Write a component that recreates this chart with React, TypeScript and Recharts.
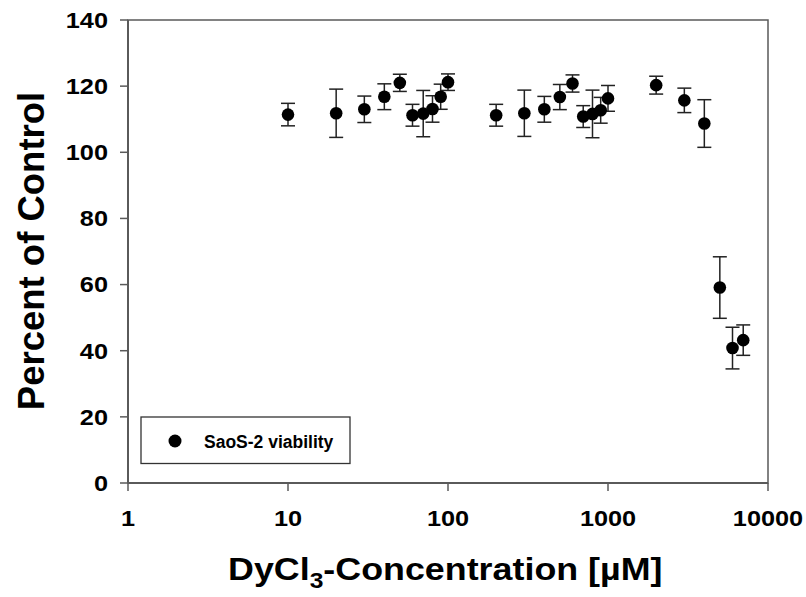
import React from "react";
import {
  ComposedChart,
  Scatter,
  XAxis,
  YAxis,
  ErrorBar,
  ReferenceArea,
  Legend,
} from "recharts";

const concentrations = [10, 20, 30, 40, 50, 60, 70, 80, 90, 100, 200, 300, 400, 500, 600, 700, 800, 900, 1000, 2000, 3000, 4000, 5000, 6000, 7000];
const viability = [111.4, 111.8, 113.0, 116.8, 121.0, 111.2, 111.7, 113.1, 116.8, 121.2, 111.2, 111.8, 113.0, 116.7, 120.8, 110.8, 111.6, 112.7, 116.3, 120.3, 115.7, 108.7, 59.1, 40.8, 43.2];
const errors = [3.4, 7.3, 4.0, 3.9, 2.6, 3.3, 7.0, 4.0, 3.8, 2.5, 3.3, 7.0, 3.9, 3.8, 2.6, 3.3, 7.2, 3.9, 3.9, 2.7, 3.7, 7.2, 9.3, 6.3, 4.6];
const xTicks = [1, 10, 100, 1000, 10000];
const yTicks = [0, 20, 40, 60, 80, 100, 120, 140];
const seriesName = "SaoS-2 viability";
const xTitleMain = "DyCl";
const xTitleSub = "3";
const xTitleRest = "-Concentration [µM]";
const yTitle = "Percent of Control";

const data = concentrations.map((c, i) => ({ x: c, y: viability[i], err: errors[i] }));

const FONT = "'Liberation Sans', Arial, Helvetica, sans-serif";
const AXIS = "#5a5a5a";

const YTick = (props: any) => {
  const { x, y, payload } = props;
  return (
    <text
      x={0}
      y={0}
      transform={`translate(${x},${y}) scale(1.15,1)`}
      textAnchor="end"
      dy={7.9}
      fontFamily={FONT}
      fontWeight="bold"
      fontSize={22}
      fill="#000"
    >
      {payload.value}
    </text>
  );
};

const XTick = (props: any) => {
  const { x, payload } = props;
  return (
    <text
      x={0}
      y={0}
      transform={`translate(${x},526) scale(1.15,1)`}
      textAnchor="middle"
      fontFamily={FONT}
      fontWeight="bold"
      fontSize={22}
      fill="#000"
    >
      {payload.value}
    </text>
  );
};

const Dot = (props: any) => {
  const { cx, cy } = props;
  return <circle cx={cx} cy={cy} r={6.3} fill="#000" />;
};

const LegendBox = () => (
  <svg width={212} height={49} style={{ display: "block" }}>
    <rect x={1} y={1} width={209} height={46.5} fill="#fff" stroke="#333" strokeWidth={1.3} />
    <circle cx={35} cy={25} r={6.5} fill="#000" />
    <text
      x={64}
      y={31.5}
      fontFamily={FONT}
      fontWeight="bold"
      fontSize={17.5}
      fill="#000"
    >
      {seriesName}
    </text>
  </svg>
);

const XTitle = () => (
  <text
    x={0}
    y={0}
    transform="translate(228,580) scale(1.12,1)"
    fontFamily={FONT}
    fontWeight="bold"
    fontSize={32}
    fill="#000"
  >
    <tspan>{xTitleMain}</tspan>
    <tspan fontSize={22} dy={8}>{xTitleSub}</tspan>
    <tspan dy={-8}>{xTitleRest}</tspan>
  </text>
);

const YTitle = () => (
  <text
    x={0}
    y={0}
    transform="translate(43.5,251) rotate(-90)"
    textAnchor="middle"
    fontFamily={FONT}
    fontWeight="bold"
    fontSize={36.5}
    fill="#000"
  >
    {yTitle}
  </text>
);

export default function App() {
  return (
    <div style={{ position: "absolute", left: 0, top: 0, width: 806, height: 597, background: "#fff" }}>
      <ComposedChart
        width={806}
        height={597}
        data={data}
        margin={{ top: 20, right: 38, bottom: 64, left: 68 }}
      >
        <XAxis
          dataKey="x"
          type="number"
          scale="log"
          domain={[1, 10000]}
          ticks={xTicks}
          allowDataOverflow
          height={50}
          axisLine={{ stroke: AXIS, strokeWidth: 2 }}
          tickLine={{ stroke: AXIS, strokeWidth: 1.5 }}
          tickSize={8}
          tick={<XTick />}
          label={<XTitle />}
        />
        <YAxis
          dataKey="y"
          type="number"
          domain={[0, 140]}
          ticks={yTicks}
          allowDataOverflow
          width={60}
          axisLine={{ stroke: AXIS, strokeWidth: 2 }}
          tickLine={{ stroke: AXIS, strokeWidth: 1.5 }}
          tickSize={8}
          tickMargin={12}
          tick={<YTick />}
          label={<YTitle />}
        />
        <ReferenceArea
          x1={1}
          x2={10000}
          y1={0}
          y2={140}
          fill="none"
          fillOpacity={0}
          stroke={AXIS}
          strokeWidth={1.5}
          ifOverflow="visible"
        />
        <Legend
          layout="horizontal"
          verticalAlign="middle"
          align="center"
          wrapperStyle={{ left: 140, top: 416, width: 212, height: 49 }}
          content={<LegendBox />}
        />
        <Scatter
          name={seriesName}
          dataKey="y"
          fill="#000"
          shape={<Dot />}
          isAnimationActive={false}
        >
          <ErrorBar dataKey="err" direction="y" width={7} stroke="#222" strokeWidth={1.5} />
        </Scatter>
      </ComposedChart>
    </div>
  );
}
